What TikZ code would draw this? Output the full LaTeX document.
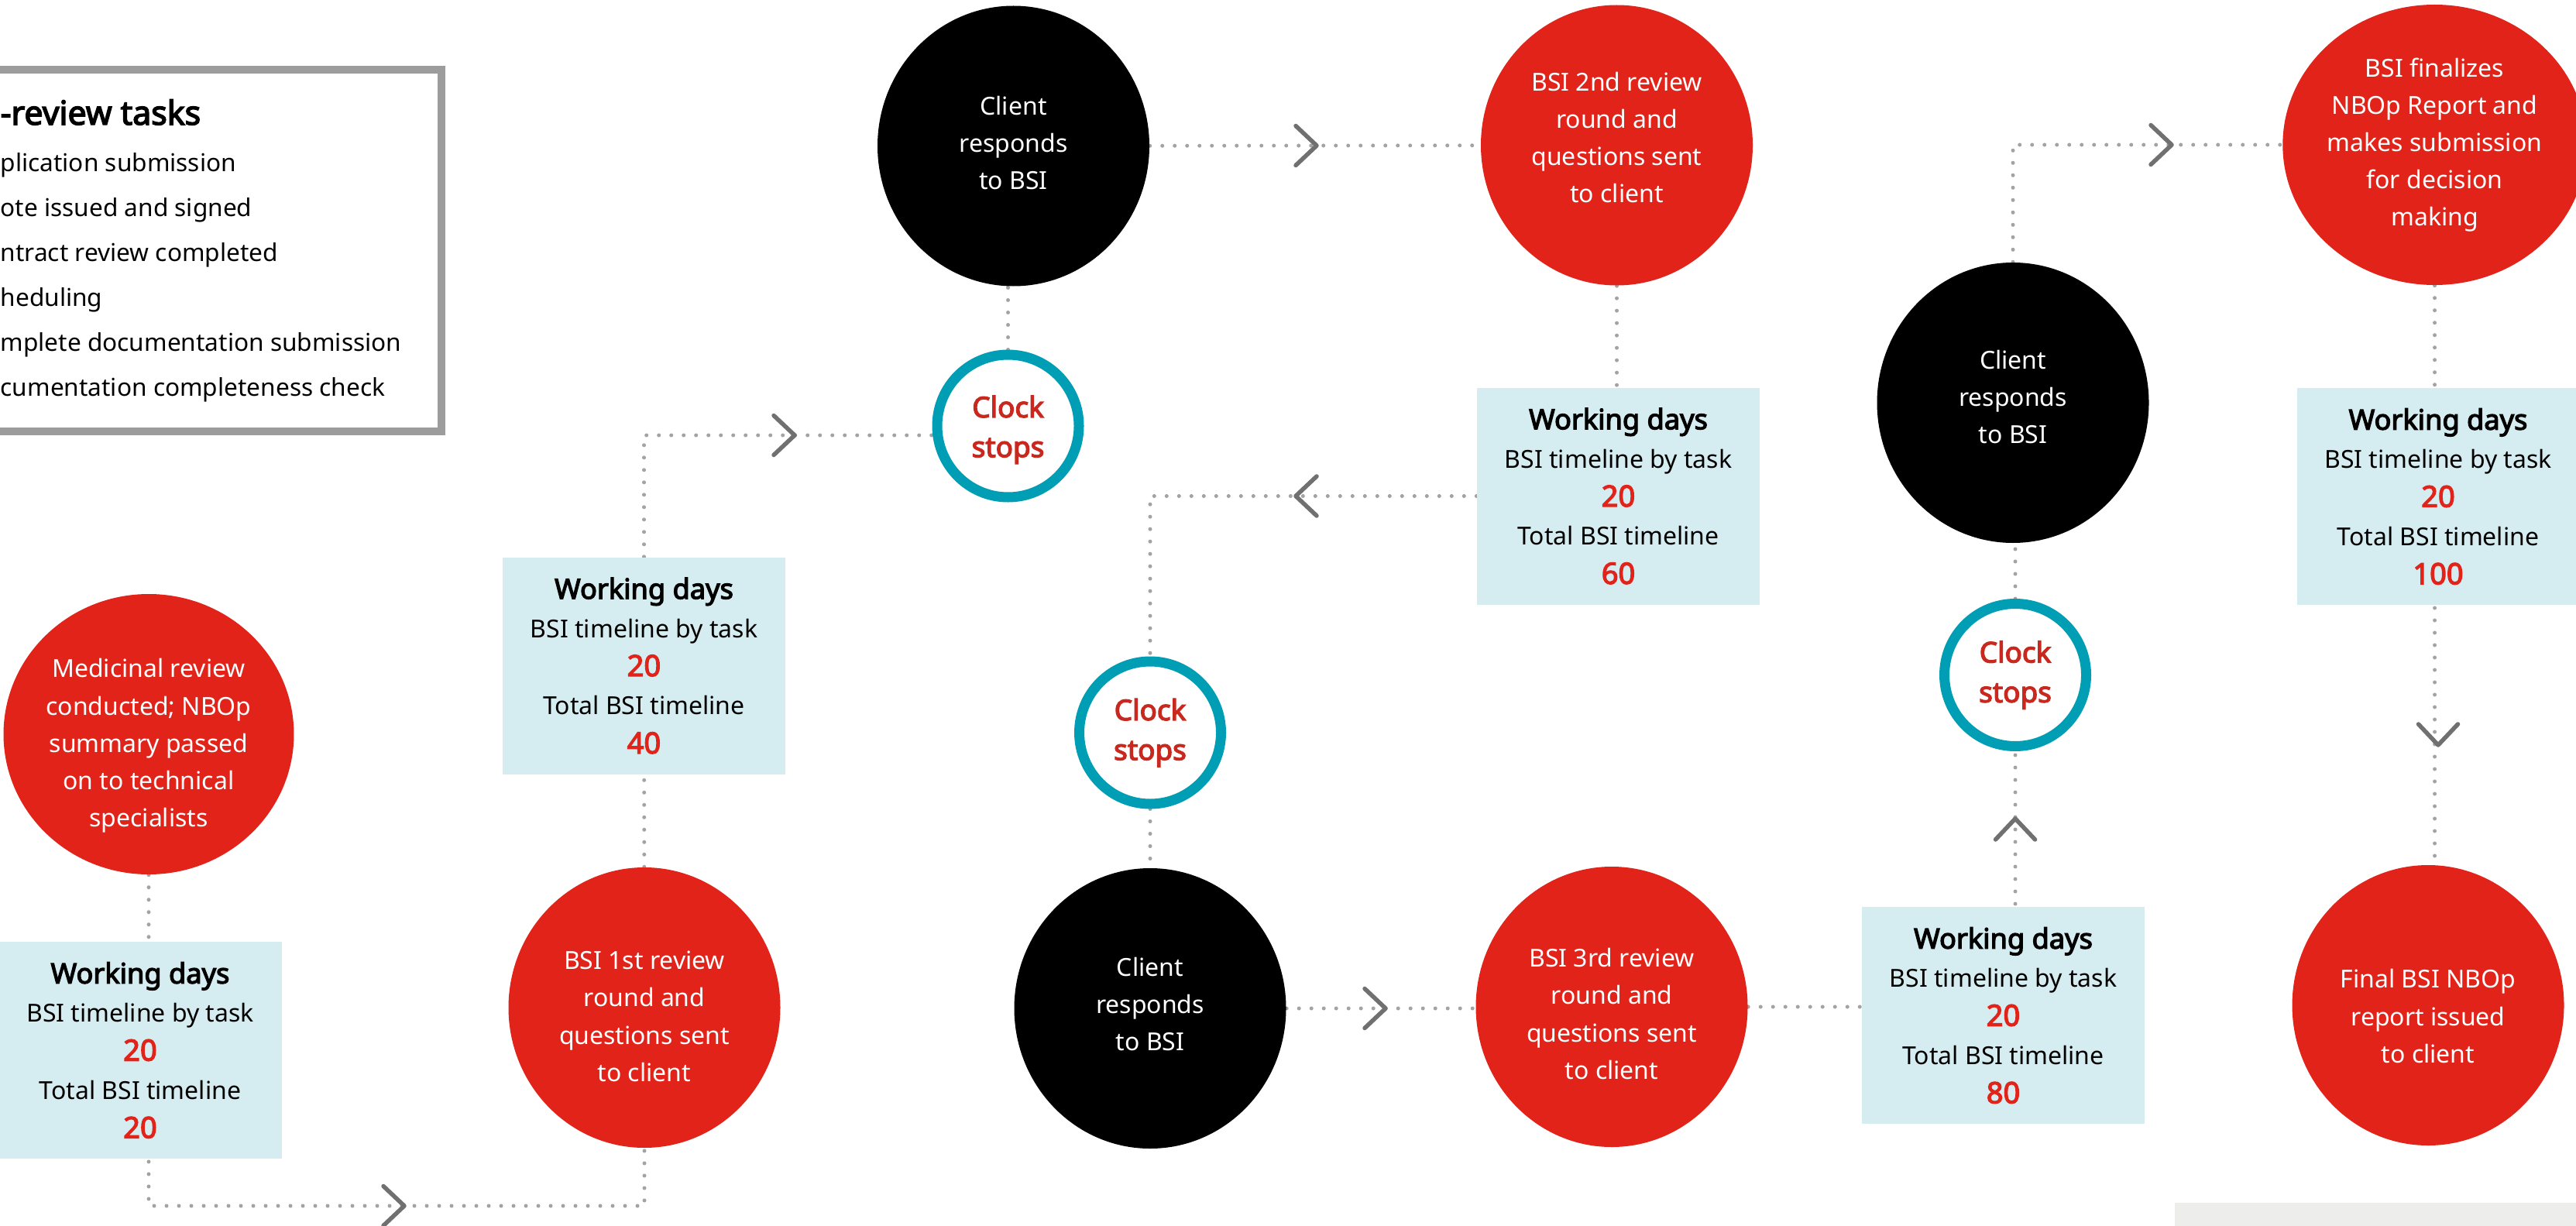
\documentclass[tikz,border=0pt]{standalone}
\usepackage{fontspec}
\setmainfont{Noto Sans}[AutoFakeBold=3.5]
\usetikzlibrary{shapes.geometric,backgrounds}

\definecolor{bsired}{HTML}{E2231A}
\definecolor{clockred}{HTML}{C8281E}
\definecolor{ringteal}{HTML}{009EB5}
\definecolor{daysblue}{HTML}{D5ECF1}
\definecolor{dotgray}{HTML}{A3A3A3}
\definecolor{chevgray}{HTML}{707070}
\definecolor{framegray}{HTML}{9C9C9C}
\definecolor{footgray}{HTML}{EDEDEB}

\newcommand{\daysnum}[1]{{\fontsize{10.8}{14.2}\selectfont\bfseries\color{bsired}#1}}
\newcommand{\daystext}[2]{{\fontsize{10.3}{14.2}\selectfont\bfseries Working days}\\BSI timeline by task\\\daysnum{#1}\\Total BSI timeline\\\daysnum{#2}}

\tikzset{
  task/.style={ellipse,fill=bsired,text=white,minimum width=3.51cm,minimum height=3.62cm,
    inner sep=0pt,align=center,font=\fontsize{9.1}{13.7}\selectfont},
  reply/.style={task,fill=black},
  clock/.style={ellipse,draw=ringteal,line width=1.3mm,fill=white,minimum width=1.83cm,
    minimum height=1.84cm,inner sep=0pt,align=center,text=clockred,
    font=\fontsize{10.5}{14.6}\selectfont\bfseries},
  days/.style={rectangle,fill=daysblue,minimum width=3.65cm,minimum height=2.8cm,
    inner sep=0pt,align=center,font=\fontsize{9.1}{14.2}\selectfont},
  dots/.style={dotgray,line width=0.5mm,line cap=round,dash pattern=on 0pt off 1.6mm},
  chevline/.style={chevgray,line width=0.55mm,line cap=round,line join=round},
  chev/.pic={\draw[chevline] (-0.27,0.255) -- (0,0) -- (-0.27,-0.255);}
}

\begin{document}
\begin{tikzpicture}
\useasboundingbox (0,0) rectangle (33.26,-15.82);

% pre-review box, cut at the left edge
\draw[framegray,line width=1mm] (-0.3,-0.90) -| (5.70,-5.57) -- (-0.3,-5.57);
\node[anchor=base west,inner sep=0pt,font=\fontsize{12.2}{14}\selectfont\bfseries] (lgtitle) at (0,-1.61) {-review tasks};
\foreach \txt [count=\i] in {plication submission,ote issued and signed,ntract review completed,heduling,mplete documentation submission,cumentation completeness check}
  \node[anchor=base west,inner sep=0pt,font=\fontsize{9}{11}\selectfont] (lg\i) at (0,{-2.21-(\i-1)*0.58}) {\txt};

\node[task,text height=70.2pt]  (red1)   at (1.92,-9.48)    {Medicinal review\\conducted; NBOp\\summary passed\\on to technical\\specialists};
\node[days]                     (days1)  at (1.81,-13.56)   {\daystext{20}{20}};
\node[task,text height=54.3pt]  (red2)   at (8.32,-13.01)   {BSI 1st review\\round and\\questions sent\\to client};
\node[days]                     (days2)  at (8.315,-8.595)  {\daystext{20}{40}};
\node[clock,text height=25.4pt] (clock1) at (13.015,-5.50)  {Clock\\stops};
\node[reply,text depth=0.08cm]  (black1) at (13.085,-1.885) {Client\\responds\\to BSI};
\node[task,text depth=0.2cm]    (red3)   at (20.875,-1.875) {BSI 2nd review\\round and\\questions sent\\to client};
\node[days]                     (days3)  at (20.895,-6.405) {\daystext{20}{60}};
\node[clock]                    (clock2) at (14.85,-9.46)   {Clock\\stops};
\node[reply,text depth=0.12cm]  (black2) at (14.85,-13.02)  {Client\\responds\\to BSI};
\node[task,text height=53.1pt]  (red4)   at (20.81,-13.00)  {BSI 3rd review\\round and\\questions sent\\to client};
\node[days]                     (days4)  at (25.865,-13.11) {\daystext{20}{80}};
\node[clock]                    (clock3) at (26.02,-8.715)  {Clock\\stops};
\node[reply,text depth=0.16cm]  (black3) at (25.99,-5.20)   {Client\\responds\\to BSI};
\node[task]                     (red5)   at (31.435,-1.87)  {BSI finalizes\\NBOp Report and\\makes submission\\for decision\\making};
\node[days]                     (days5)  at (31.48,-6.41)   {\daystext{20}{100}};
\node[task,text height=42.3pt]  (red6)   at (31.35,-12.98)  {Final BSI NBOp\\report issued\\to client};

\coordinate (low) at (0,-15.57);

\begin{pgfonlayer}{background}
\draw[dots] (red1) -- (red1 |- days1);
\draw[dots] (red1 |- days1) -- (red1 |- low) -| (red2);
\draw[dots] (red2) -- (days2);
\draw[dots] (days2) |- ([yshift=-1.2mm]clock1.center);
\draw[dots] (clock1) -- (clock1 |- black1);
\draw[dots] (black1) -- (red3);
\draw[dots] (red3) -- (red3 |- days3);
\draw[dots] (days3) -| (clock2);
\draw[dots] (clock2) -- (black2);
\draw[dots] (black2) -- (black2 -| red4);
\draw[dots] (red4) -- (red4 -| days4);
\draw[dots] (clock3 |- days4) -- (clock3);
\draw[dots] (clock3) -- (clock3 |- black3);
\draw[dots] (black3) |- (red5);
\draw[dots] (red5) -- (red5 |- days5);
\draw[dots] (red5 |- days5) -- (red5 |- red6);
\end{pgfonlayer}

\pic at (5.22,-15.57) {chev};
\pic at (10.26,-5.62) {chev};
\pic at (17.00,-1.88) {chev};
\pic[rotate=180] at (16.73,-6.405) {chev};
\pic at (17.89,-13.02) {chev};
\pic[rotate=90] at (26.02,-10.57) {chev};
\pic at (28.04,-1.87) {chev};
\pic[rotate=-90] at (31.48,-9.62) {chev};

\fill[footgray] (28.08,-15.53) rectangle (33.4,-15.9);
\end{tikzpicture}
\end{document}
